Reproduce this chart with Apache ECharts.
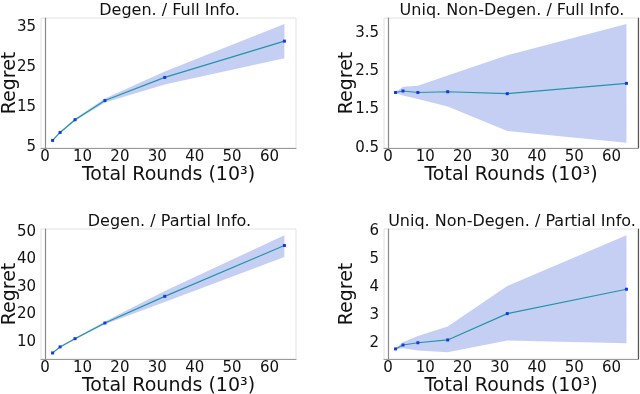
<!DOCTYPE html>
<html>
<head>
<meta charset="utf-8">
<script src="https://cdn.jsdelivr.net/npm/echarts@6/dist/echarts.min.js"></script>
<style>
  html, body { margin: 0; padding: 0; background: #fff; }
</style>
</head>
<body>
<div id="regret" style="width:640px;height:394px;"></div>
<script>
  // rounds (x 10^3)
  let rounds = [2, 4, 8, 16, 32, 64];
  let xTicks = [0, 10, 20, 30, 40, 50, 60];

  let titles = ['Degen. / Full Info.', 'Uniq. Non-Degen. / Full Info.',
                'Degen. / Partial Info.', 'Uniq. Non-Degen. / Partial Info.'];

  // Degen. / Full Info.
  let degFullMean = [6.6, 8.6, 11.8, 16.6, 22.4, 31.5];
  let degFullLow = [6.4, 8.4, 11.5, 16.1, 20.6, 27.2];
  let degFullHigh = [6.8, 8.8, 12.1, 17.1, 23.9, 35.8];
  let degFullTicks = [5, 15, 25, 35];

  // Uniq. Non-Degen. / Full Info.
  let uniqFullMean = [1.95, 1.99, 1.95, 1.97, 1.92, 2.19];
  let uniqFullLow = [1.94, 1.87, 1.78, 1.58, 0.94, 0.63];
  let uniqFullHigh = [1.96, 2.10, 2.13, 2.40, 2.93, 3.75];
  let uniqFullTicks = [0.5, 1.5, 2.5, 3.5];

  // Degen. / Partial Info.
  let degPartMean = [6.0, 8.2, 11.2, 16.9, 26.6, 45.1];
  let degPartLow = [5.8, 8.0, 10.9, 16.4, 24.5, 40.9];
  let degPartHigh = [6.2, 8.4, 11.5, 17.4, 28.5, 48.8];
  let degPartTicks = [10, 20, 30, 40, 50];

  // Uniq. Non-Degen. / Partial Info.
  let uniqPartMean = [1.80, 1.94, 2.02, 2.12, 3.06, 3.93];
  let uniqPartLow = [1.78, 1.82, 1.74, 1.68, 2.10, 2.00];
  let uniqPartHigh = [1.82, 2.04, 2.26, 2.60, 4.05, 5.86];
  let uniqPartTicks = [2, 3, 4, 5, 6];

  let panels = [
    {mean: degFullMean, low: degFullLow, high: degFullHigh, ticks: degFullTicks, min: 4.7, max: 37.3},
    {mean: uniqFullMean, low: uniqFullLow, high: uniqFullHigh, ticks: uniqFullTicks, min: 0.49, max: 3.91},
    {mean: degPartMean, low: degPartLow, high: degPartHigh, ticks: degPartTicks, min: 3.8, max: 51.1},
    {mean: uniqPartMean, low: uniqPartLow, high: uniqPartHigh, ticks: uniqPartTicks, min: 1.44, max: 6.08}
  ];

  const font = 'DejaVu Sans';
  let grids = [
    {left: 41, top: 18, width: 255, height: 130},
    {left: 384, top: 18, width: 254, height: 130},
    {left: 41, top: 229, width: 255, height: 130},
    {left: 384, top: 229, width: 254, height: 130}
  ];

  // shaded band between low and high, drawn once as one polygon
  function bandRenderer(low, high) {
    return function (params, api) {
      if (params.dataIndex !== 0) return;
      let top = rounds.map((r, k) => api.coord([r, high[k]]));
      let bottom = rounds.map((r, k) => api.coord([r, low[k]])).reverse();
      return {
        type: 'polygon',
        shape: {points: top.concat(bottom)},
        style: {fill: '#c5cff3'},
        silent: true
      };
    };
  }

  let myChart = echarts.init(document.getElementById('regret'));
  let option = {
    backgroundColor: '#fff',
    animation: false,
    title: [], grid: [], xAxis: [], yAxis: [], series: []
  };

  panels.forEach((p, i) => {
    let g = grids[i];
    option.title.push({
      text: titles[i],
      left: g.left + g.width / 2 - 4,
      top: g.top - 20,
      textAlign: 'center',
      textStyle: {fontFamily: font, fontSize: 16, fontWeight: 'normal', color: '#111'}
    });
    option.grid.push(Object.assign({show: true, borderColor: '#e2e2e2', borderWidth: 1,
      containLabel: false, outerBoundsMode: 'none'}, g));
    option.xAxis.push({
      gridIndex: i,
      type: 'value',
      min: -1.1,
      max: 67.1,
      name: 'Total Rounds (10³)',
      nameLocation: 'middle',
      nameGap: 18,
      nameTextStyle: {fontFamily: font, fontSize: 19, color: '#111'},
      axisLine: {show: true, lineStyle: {color: '#9a9a9a', width: 1.2}},
      axisTick: {show: false},
      splitLine: {show: false},
      axisLabel: {customValues: xTicks, fontFamily: font, fontSize: 15, color: '#111', margin: 2}
    });
    option.yAxis.push({
      gridIndex: i,
      type: 'value',
      min: p.min,
      max: p.max,
      name: 'Regret',
      nameLocation: 'middle',
      nameGap: i % 2 ? 27 : 21,
      nameMoveOverlap: false,
      nameTextStyle: {fontFamily: font, fontSize: 19, color: '#111'},
      axisLine: {show: true, lineStyle: {color: '#8a8a8a', width: 1.2}},
      axisTick: {show: false},
      splitLine: {show: false},
      axisLabel: {customValues: p.ticks, fontFamily: font, fontSize: 15, color: '#111', margin: 5}
    });
    let yIndex = option.yAxis.length - 1;
    if (i % 2) {
      // darker right edge on the right-hand panels
      option.yAxis.push({
        gridIndex: i, type: 'value', position: 'right', min: p.min, max: p.max,
        axisLine: {show: true, lineStyle: {color: '#555', width: 1.2}},
        axisTick: {show: false}, axisLabel: {show: false}, splitLine: {show: false}
      });
    }
    option.series.push({
      type: 'custom', xAxisIndex: i, yAxisIndex: yIndex,
      data: rounds.map((r, k) => [r, p.low[k], p.high[k]]),
      renderItem: bandRenderer(p.low, p.high),
      z: 1
    });
    option.series.push({
      type: 'line', xAxisIndex: i, yAxisIndex: yIndex,
      data: rounds.map((r, k) => [r, p.mean[k]]),
      symbol: 'rect', symbolSize: 3,
      itemStyle: {color: '#1438e8'},
      lineStyle: {color: '#2494a8', width: 1.2},
      z: 5
    });
  });

  myChart.setOption(option);
</script>
</body>
</html>
